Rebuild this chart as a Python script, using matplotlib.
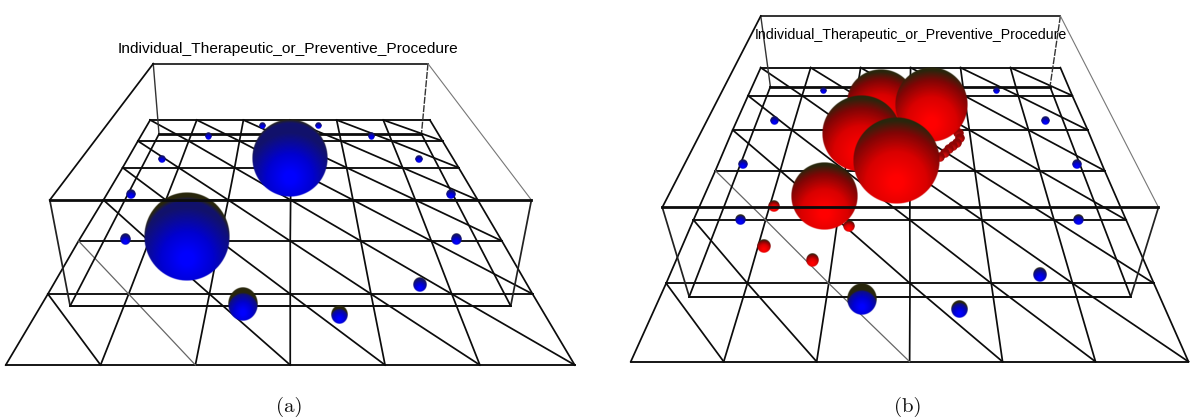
import numpy as np
import matplotlib
matplotlib.use("Agg")
import matplotlib.pyplot as plt

TITLE = "Individual_Therapeutic_or_Preventive_Procedure"

# Panel (a): floor grid rows (y, x left, x right)
a_row_y = [270, 333, 413, 510, 633, 792, 1005]
a_row_l = [392, 360, 320, 270, 205, 125, 15]
a_row_r = [1122, 1155, 1197, 1247, 1310, 1390, 1500]
a_thin = [(0, 4), (1, 5)]
# box: top back, top front, bottom front, bottom back (y, x left, x right)
a_box = [(101, 400, 1117), (510, 130, 1387), (828, 183, 1333), (312, 415, 1100)]
a_blue_x = [488, 757, 634, 887, 1095, 326, 1190, 340, 1176, 423, 1093, 545, 970, 685, 830]
a_blue_y = [620, 384, 823, 855, 766, 628, 628, 493, 493, 388, 388, 320, 320, 287, 287]
a_blue_rx = [112, 98, 39, 22, 17, 14, 14, 12, 12, 10, 10, 9, 9, 9, 9]
a_blue_ry = [133, 116, 50, 28, 21, 17, 17, 14, 14, 12, 12, 11, 11, 10, 10]
a_blue_cap = [0.18, 0.08, 0.4, 0.45, 0.12, 0.08, 0.08, 0.05, 0.05, 0.03, 0.03, 0.03, 0.03, 0.03, 0.03]

# Panel (b)
b_row_y = [203, 287, 390, 512, 660, 850, 1085]
b_row_l = [418, 385, 345, 300, 243, 172, 80]
b_row_r = [1197, 1228, 1268, 1312, 1368, 1440, 1530]
b_thin = [(0, 3), (1, 4), (2, 5)]
b_box = [(48, 418, 1197), (622, 162, 1452), (890, 232, 1380), (260, 443, 1170)]
b_blue_x = [682, 933, 1143, 365, 1245, 372, 1240, 454, 1157, 580, 1031]
b_blue_y = [898, 928, 825, 660, 660, 494, 494, 361, 361, 273, 273]
b_blue_rx = [39, 21, 18, 14, 14, 12, 12, 11, 11, 9, 9]
b_blue_ry = [48, 27, 22, 16, 16, 14, 14, 13, 13, 10, 10]
b_blue_cap = [0.5, 0.35, 0.2, 0.3, 0.3, 0.1, 0.1, 0.03, 0.03, 0.03, 0.03]
b_arc_x = [924, 932, 936, 928, 918, 908, 896, 884]
b_arc_y = [388, 400, 414, 428, 438, 448, 460, 471]
b_red_x = [453, 647, 425, 551, 730, 860, 680, 770, 582]
b_red_y = [618, 678, 740, 781, 305, 315, 400, 483, 587]
b_red_rx = [15, 15, 17, 16, 88, 94, 102, 112, 86]
b_red_ry = [17, 17, 20, 20, 95, 112, 115, 130, 102]

DARK = np.array([0.16, 0.15, 0.05])
BLUE_STOPS = ([0.15, 0.6, 1.15], [0.0, 0.0, 0.07], [0.0, 0.0, 0.07], [1.0, 0.82, 0.42])
RED_STOPS = ([0.15, 0.7, 1.15, 1.42], [1.0, 0.85, 0.5, 0.16], [0.0, 0.0, 0.02, 0.15], [0.0, 0.0, 0.02, 0.05])
ARC_STOPS = ([0.1, 0.9], [0.85, 0.55], [0.05, 0.02], [0.05, 0.02])


def sphere(ax, x, y, rx, ry, stops, cap, z):
    n = 220
    v, u = np.mgrid[-1:1:n * 1j, -1:1:n * 1j]
    r = np.hypot(u, v)
    d = np.hypot(u, v - 0.5)
    xs, rs, gs, bs = stops
    rgb = np.dstack([np.interp(d, xs, rs), np.interp(d, xs, gs), np.interp(d, xs, bs)])
    if cap > 0:
        # dark crescent along the top of the ball
        c = np.clip((np.hypot(u, v - cap) - 0.98) / 0.1, 0, 1)[..., None]
        rgb = rgb * (1 - c) + DARK * c
    img = np.dstack([rgb, np.clip((1 - r) * max(rx, ry) / 1.5, 0, 1)])
    ax.imshow(img, extent=(x - rx, x + rx, y + ry, y - ry), aspect="auto",
              interpolation="bilinear", zorder=z, origin="upper")


def panel(rect, ylim, xlim, rows, thin, box, title_xy, title_size, cap_xy, cap):
    ax = fig.add_axes(rect)
    row_y, row_l, row_r = [np.array(r, float) for r in rows]
    colx = np.array([row_l + (row_r - row_l) * i / 6 for i in range(7)])
    lw = 1.25
    ink = "#0c0c0c"
    for j in range(7):
        ax.plot([row_l[j], row_r[j]], [row_y[j]] * 2, color=ink, lw=lw + 0.1, zorder=2)
    for i in range(7):
        ax.plot(colx[i], row_y, color=ink, lw=lw, zorder=2)
    for i in range(6):
        for j in range(6):
            is_thin = (i, j) in thin
            ax.plot([colx[i, j], colx[i + 1, j + 1]], [row_y[j], row_y[j + 1]],
                    color="#666666" if is_thin else ink,
                    lw=0.9 if is_thin else lw, zorder=2)
    (ty, tl, tr), (fy, fl, fr), (by, bl, br), (ky, kl, kr) = box
    ax.plot([tl, tr], [ty, ty], color="#333333", lw=1.4, zorder=2)
    ax.plot([fl, fr], [fy, fy], color=ink, lw=2.0, zorder=20)
    ax.plot([bl, br], [by, by], color=ink, lw=1.4, zorder=2)
    ax.plot([kl, kr], [ky, ky], color=ink, lw=2.0, zorder=2)
    ax.plot([fl, bl], [fy, by], color="#222222", lw=lw, zorder=2)
    ax.plot([fr, br], [fy, by], color="#222222", lw=lw, zorder=2)
    ax.plot([tl, kl], [ty, ky], color="#333333", lw=1.0, zorder=2)
    ax.plot([tr, kr], [ty, ky], color="#333333", lw=1.0, ls=(0, (5, 1)), zorder=2)
    ax.plot([tl, fl], [ty, fy], color=ink, lw=lw, zorder=2)
    ax.plot([tr, fr], [ty, fy], color="#777777", lw=0.8, zorder=2)
    ax.plot([kl, bl], [ky, by], color=ink, lw=lw, zorder=2)
    ax.plot([kr, br], [ky, by], color=ink, lw=lw, zorder=2)
    ax.text(*title_xy, TITLE, ha="center", va="center", family="Liberation Sans",
            fontsize=title_size, color="black", zorder=30)
    ax.text(*cap_xy, cap, ha="center", va="center", family="cmr10", fontsize=15,
            color="#111111", zorder=30)
    ax.set_xlim(0, xlim)
    ax.set_ylim(ylim, 0)
    ax.axis("off")
    return ax


fig = plt.figure(figsize=(12, 4.19), dpi=100, facecolor="white")
H = 419.0
XA, XB = 1566, 1560
YA, YB = 1167, 1257
axa = panel([0, 0, 0.5, 389 / H], YA, XA, (a_row_y, a_row_l, a_row_r), a_thin, a_box,
            (752, 57), 11.15, (755, 1130), "(a)")
axb = panel([0.5, 0, 0.5, 1.0], YB, XB, (b_row_y, b_row_l, b_row_r), b_thin, b_box,
            (808, 105), 10.15, (800, 1220), "(b)")

for x, y, rx, ry, c in zip(a_blue_x, a_blue_y, a_blue_rx, a_blue_ry, a_blue_cap):
    sphere(axa, x, y, rx, ry, BLUE_STOPS, c, 5 + y / 1000)
for x, y, rx, ry, c in zip(b_blue_x, b_blue_y, b_blue_rx, b_blue_ry, b_blue_cap):
    sphere(axb, x, y, rx, ry, BLUE_STOPS, c, 5)
for x, y in zip(b_arc_x, b_arc_y):
    sphere(axb, x, y, 13, 15, ARC_STOPS, 0, 5.5)
for k, (x, y, rx, ry) in enumerate(zip(b_red_x, b_red_y, b_red_rx, b_red_ry)):
    sphere(axb, x, y, rx, ry, RED_STOPS, 0, 6 + k * 0.1 if rx > 30 else 5.4)
for ax, xl, yl in ((axa, XA, YA), (axb, XB, YB)):
    ax.set_xlim(0, xl)
    ax.set_ylim(yl, 0)

fig.savefig("out.png", dpi=100, facecolor="white")
